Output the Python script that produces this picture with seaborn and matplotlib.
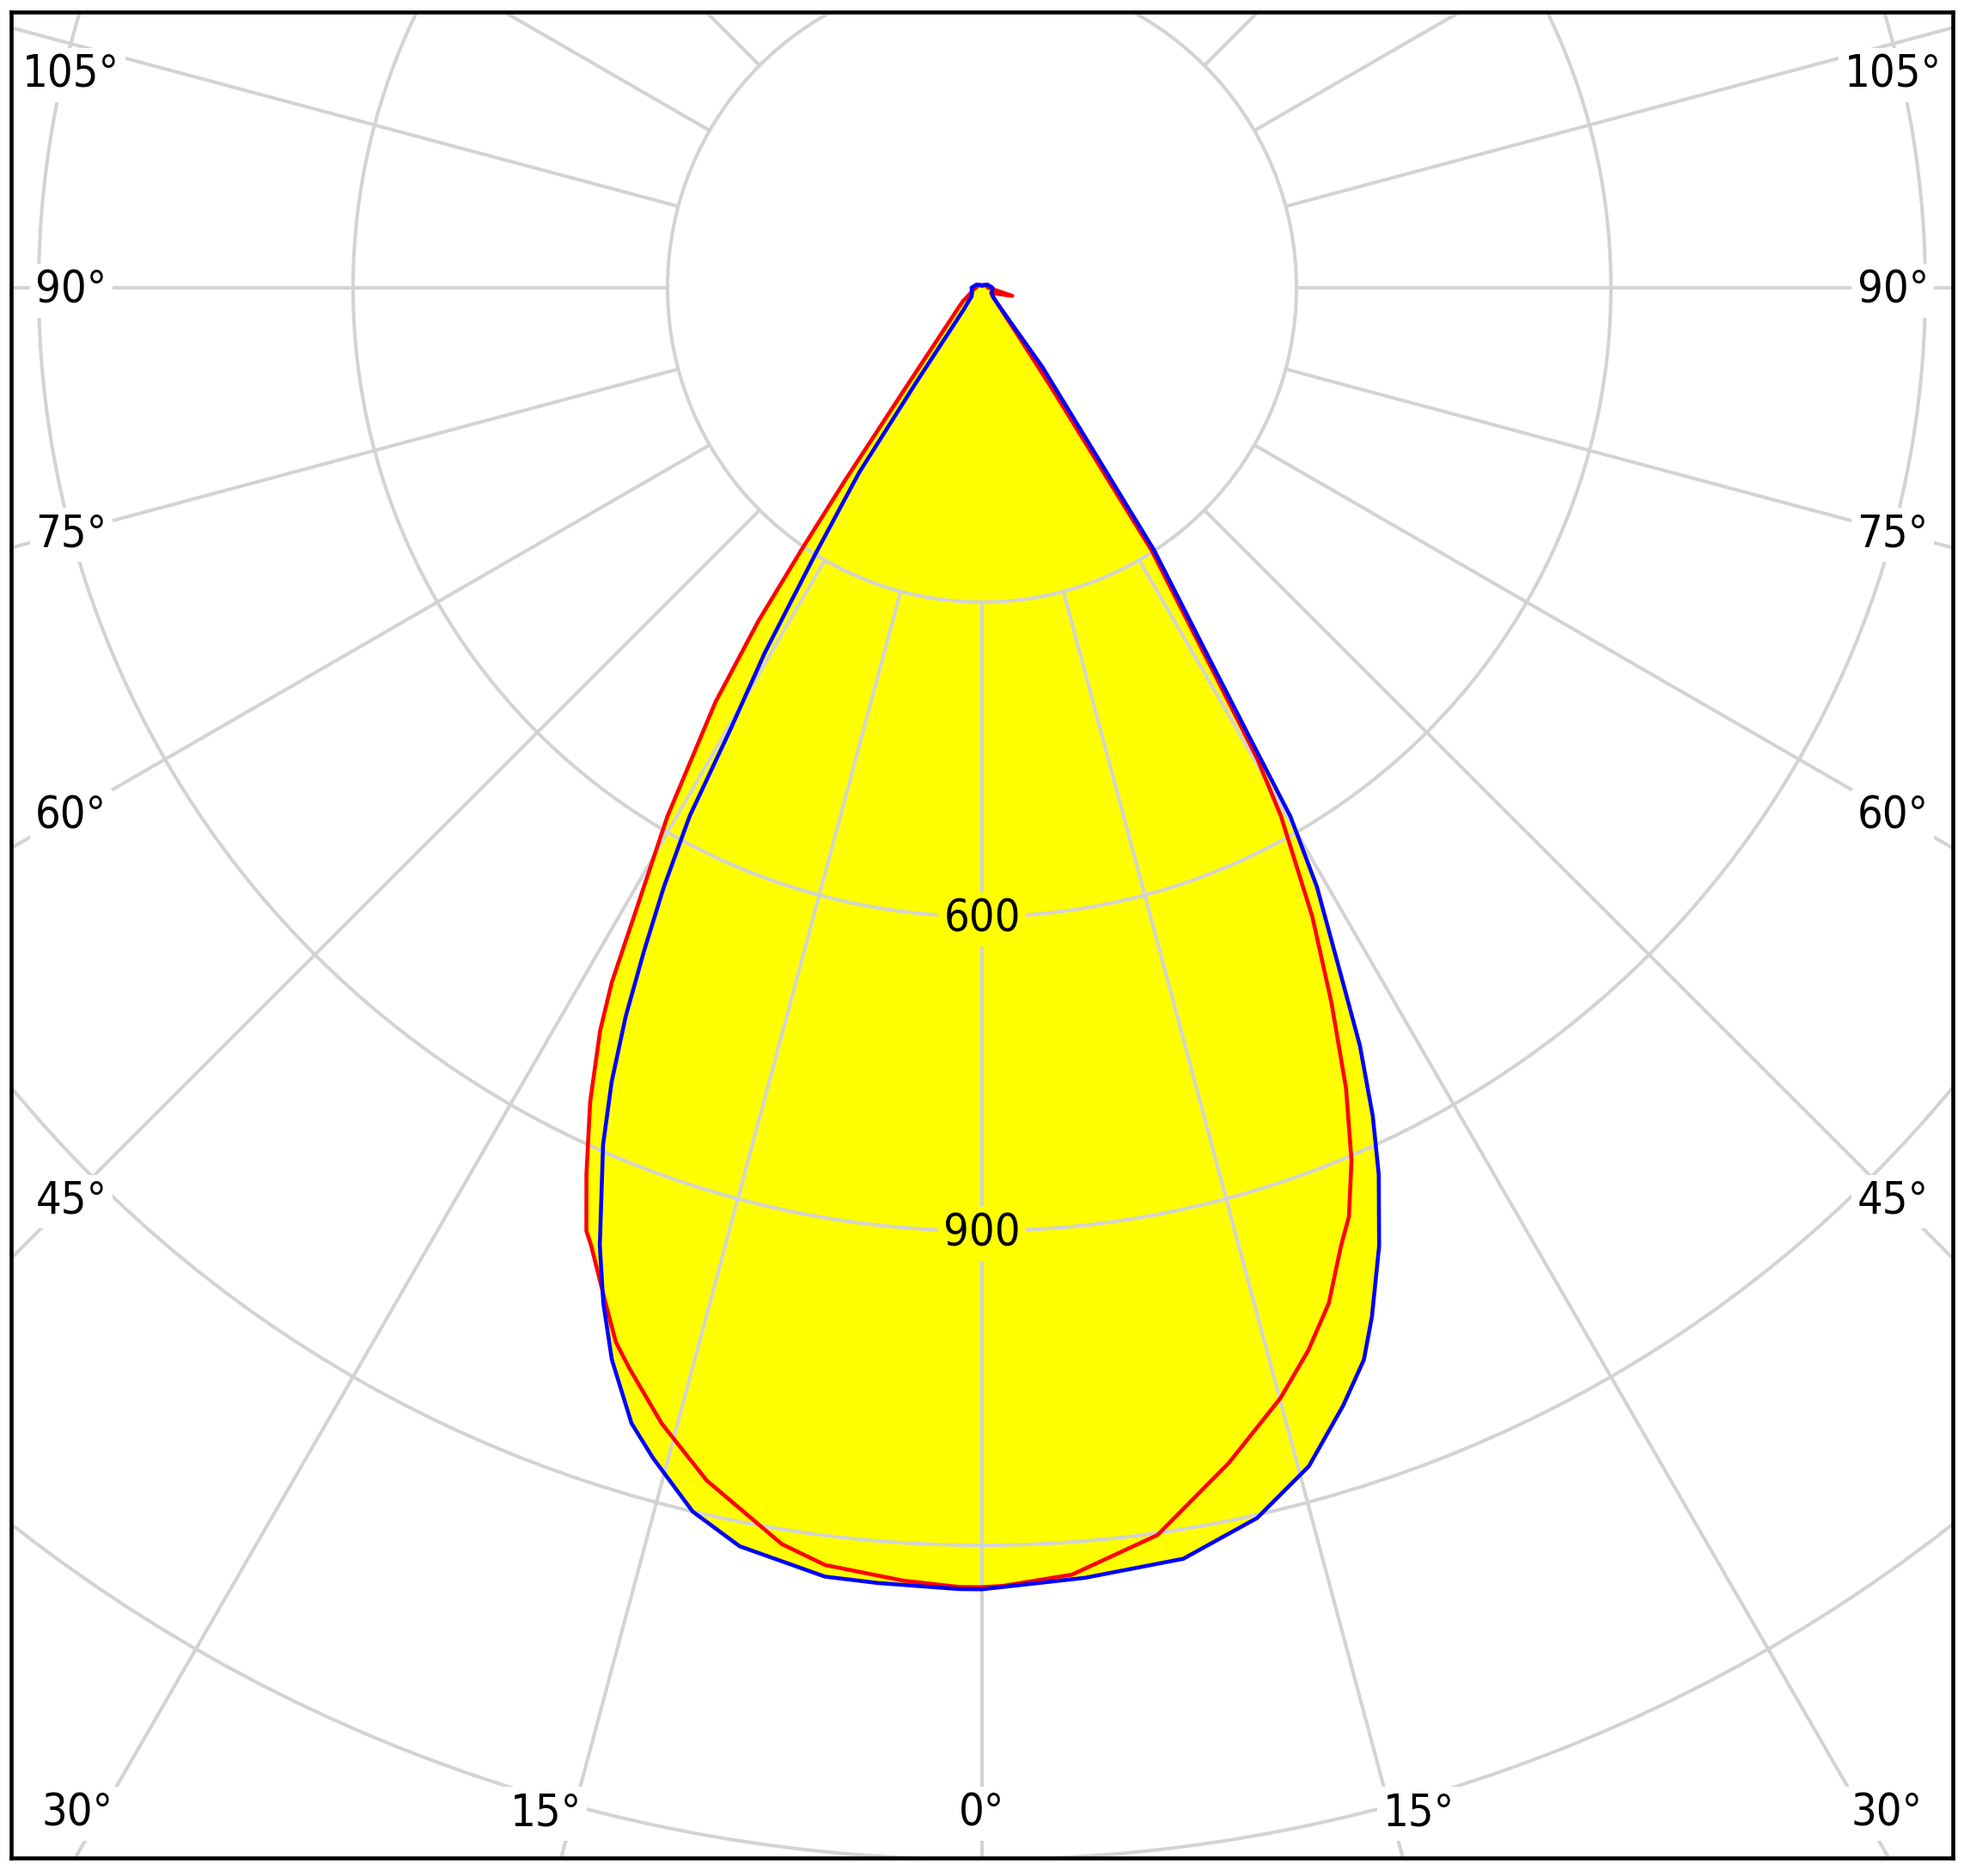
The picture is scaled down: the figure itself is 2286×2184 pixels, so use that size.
import numpy as np
import pandas as pd
import seaborn as sns
import matplotlib.pyplot as plt
from matplotlib import patches

# read-off points of each half plane: gamma angle (deg from nadir) and intensity (cd)
blue_left_gamma = [0, 1.0, 4.6, 6.95, 10.9, 13.3, 15.7, 17.15, 19.05, 20.45, 21.75, 23.85, 25.0,
                   26.05, 27.0, 27.95, 28.95, 29.65, 30.75, 32.05, 33.6, 34.8, 37.5, 40, 45, 50,
                   60, 75, 90, 120, 150, 180]
blue_left_cd = [1242, 1242, 1240, 1239, 1223, 1200, 1160, 1134, 1082, 1034, 984, 894, 836,
                774, 710, 648, 576, 486, 405, 298, 212, 110, 42, 27, 18, 13,
                11, 10, 10, 6, 3, 2]

blue_right_gamma = [0, 0.9, 4.55, 9.0, 12.6, 15.5, 17.9, 19.6, 20.75, 22.5, 24.1, 25.25, 26.5,
                    27.6, 29.2, 30.25, 30.7, 31.5, 33.25, 35, 37.3, 40, 45, 50, 60, 75, 90,
                    120, 150, 180]
blue_right_cd = [1240, 1240, 1235, 1228, 1203, 1167, 1121, 1086, 1050, 990, 927, 874, 808,
                 738, 655, 584, 507, 415, 299, 155, 95, 40, 20, 14, 11, 10, 10,
                 6, 3, 2]

red_left_gamma = [0, 1.0, 3.5, 7.0, 9.05, 13.0, 15.75, 18.05, 19.15, 20.35, 22.2, 22.75, 24.05,
                  25.7, 27.2, 28.05, 29.05, 30.75, 32.75, 33.85, 34.55, 35.4, 37.4, 40, 45,
                  50, 55, 60, 75, 90, 120, 150, 180]
red_left_cd = [1240, 1240, 1236, 1228, 1214, 1168, 1126, 1085, 1065, 1033, 987, 976, 926,
               862, 797, 751, 680, 587, 470, 383, 304, 226, 119, 72, 41,
               29, 22, 15, 9, 6, 4, 3, 2]

red_right_gamma = [0, 0.9, 4.0, 8.0, 11.85, 15.05, 17.05, 18.85, 20.55, 21.55, 22.95, 24.45,
                   26.05, 27.7, 29.5, 30.3, 31.05, 32.85, 34.8, 37.5, 40, 45, 50, 60, 75, 90,
                   120, 150, 180]
red_right_cd = [1240, 1239, 1231, 1202, 1146, 1097, 1061, 1024, 976, 953, 904, 839,
                759, 678, 579, 520, 429, 298, 115, 51, 33, 20, 14, 10, 30, 6,
                4, 3, 2]

ring_values = [300, 600, 900, 1200, 1500, 1800]
ring_labels = [600, 900]
spoke_angles = list(range(0, 360, 15))
side_angles = [45, 60, 75, 90, 105]
bottom_angles = [0, 15, 30]


def to_xy(gamma, values, side):
    g = np.radians(gamma)
    v = np.asarray(values, dtype=float)
    return side * v * np.sin(g), -v * np.cos(g)


def curve(lg, lv, rg, rv):
    xl, yl = to_xy(lg, lv, -1)
    xr, yr = to_xy(rg, rv, 1)
    x = np.concatenate([xl[::-1], xr[1:]])
    y = np.concatenate([yl[::-1], yr[1:]])
    return pd.DataFrame({"x": x, "y": y})


sns.set_theme(style="white")
plt.rcParams["font.family"] = ["DejaVu Sans"]
plt.rcParams["font.stretch"] = "condensed"

fig = plt.figure(figsize=(22.86, 21.84), dpi=100)
ax = fig.add_axes([13 / 2286, 1 - 2163 / 2184, 2260 / 2286, 2149 / 2184])
ax.set_xlim(-926.2, 926.2)
ax.set_ylim(-1498.4, 263.1)
ax.set_xticks([])
ax.set_yticks([])
for s in ax.spines.values():
    s.set_visible(True)
    s.set_color("black")
    s.set_linewidth(3.3)
    s.set_zorder(10)

red = curve(red_left_gamma, red_left_cd, red_right_gamma, red_right_cd)
blue = curve(blue_left_gamma, blue_left_cd, blue_right_gamma, blue_right_cd)

# yellow area = union of both planes
ax.fill(red["x"], red["y"], color="#ffff00", lw=0, zorder=1)
ax.fill(blue["x"], blue["y"], color="#ffff00", lw=0, zorder=1)

grid_color = "#d3d3d3"
for r in ring_values:
    ax.add_patch(patches.Circle((0, 0), r, fill=False, ec=grid_color, lw=2.9, zorder=2))
for a in spoke_angles:
    t = np.radians(a)
    ax.plot([300 * np.sin(t), 2500 * np.sin(t)], [-300 * np.cos(t), -2500 * np.cos(t)],
            color=grid_color, lw=2.9, zorder=2, solid_capstyle="butt")

fs = 37.5
dy = -3
label_kw = dict(fontsize=fs, ha="center", va="center", color="black", zorder=3)

for v in ring_labels:
    ax.text(0, -v + dy, str(v),
            bbox=dict(boxstyle="square,pad=0.12", fc="#ffff00", ec="none"), **label_kw)

side_x = 869.0
for a in side_angles:
    y = min(-side_x / np.tan(np.radians(a)), 206)
    for sx in (-1, 1):
        ax.text(sx * side_x, y + dy, f"{a}°",
                bbox=dict(boxstyle="square,pad=0.12", fc="white", ec="none"), **label_kw)

bottom_y = -1453
nudge = {0: 0, 15: 27, 30: 24}
for a in bottom_angles:
    x = -bottom_y * np.tan(np.radians(a)) + nudge[a]
    for sx in ((1,) if a == 0 else (-1, 1)):
        ax.text(sx * x, bottom_y + dy, f"{a}°",
                bbox=dict(boxstyle="square,pad=0.12", fc="white", ec="none"), **label_kw)

sns.lineplot(data=red, x="x", y="y", sort=False, estimator=None, color="#ff0000",
             lw=3.3, ax=ax, zorder=4)
sns.lineplot(data=blue, x="x", y="y", sort=False, estimator=None, color="#0000ff",
             lw=3.3, ax=ax, zorder=5)
ax.set_xlabel("")
ax.set_ylabel("")

fig.savefig("out.png", dpi=100)
